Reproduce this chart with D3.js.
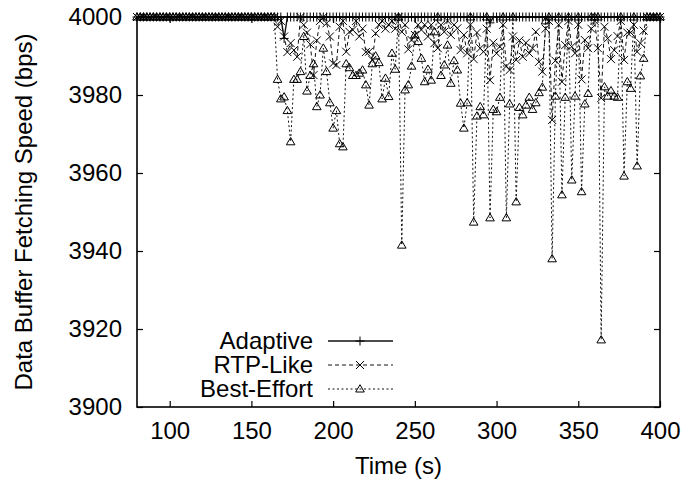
<!DOCTYPE html>
<html lang="en">
<head>
<meta charset="UTF-8">
<title>Data Buffer Fetching Speed</title>
<script src="https://d3js.org/d3.v7.min.js"></script>
<style>
  body { margin: 0; background: #fff; }
  svg { font-family: "Liberation Sans", Arial, sans-serif; }
</style>
</head>
<body>
<div id="chart"></div>
<script>
// time samples (s), one every 2 s
let times = [
   80,  82,  84,  86,  88,  90,  92,  94,  96,  98,
  100, 102, 104, 106, 108, 110, 112, 114, 116, 118,
  120, 122, 124, 126, 128, 130, 132, 134, 136, 138,
  140, 142, 144, 146, 148, 150, 152, 154, 156, 158,
  160, 162, 164, 166, 168, 170, 172, 174, 176, 178,
  180, 182, 184, 186, 188, 190, 192, 194, 196, 198,
  200, 202, 204, 206, 208, 210, 212, 214, 216, 218,
  220, 222, 224, 226, 228, 230, 232, 234, 236, 238,
  240, 242, 244, 246, 248, 250, 252, 254, 256, 258,
  260, 262, 264, 266, 268, 270, 272, 274, 276, 278,
  280, 282, 284, 286, 288, 290, 292, 294, 296, 298,
  300, 302, 304, 306, 308, 310, 312, 314, 316, 318,
  320, 322, 324, 326, 328, 330, 332, 334, 336, 338,
  340, 342, 344, 346, 348, 350, 352, 354, 356, 358,
  360, 362, 364, 366, 368, 370, 372, 374, 376, 378,
  380, 382, 384, 386, 388, 390, 392, 394, 396, 398,
  400
];

let adaptive = [
  4000, 4000, 4000, 4000, 4000, 4000, 4000, 4000, 4000, 4000,
  4000, 4000, 4000, 4000, 4000, 4000, 4000, 4000, 4000, 4000,
  4000, 4000, 4000, 4000, 4000, 4000, 4000, 4000, 4000, 4000,
  4000, 4000, 4000, 4000, 4000, 4000, 4000, 4000, 4000, 4000,
  4000, 4000, 4000, 4000, 4000, 3994.5, 4000, 4000, 4000, 4000,
  4000, 4000, 4000, 4000, 4000, 4000, 4000, 4000, 4000, 4000,
  4000, 4000, 4000, 4000, 4000, 4000, 4000, 4000, 4000, 4000,
  4000, 4000, 4000, 4000, 4000, 4000, 4000, 4000, 4000, 4000,
  4000, 4000, 4000, 4000, 4000, 4000, 4000, 4000, 4000, 4000,
  4000, 4000, 4000, 4000, 4000, 4000, 4000, 4000, 4000, 4000,
  4000, 4000, 4000, 4000, 4000, 4000, 4000, 4000, 3998.5, 4000,
  4000, 4000, 4000, 4000, 4000, 4000, 4000, 4000, 4000, 4000,
  4000, 4000, 4000, 4000, 4000, 4000, 4000, 4000, 4000, 4000,
  4000, 4000, 4000, 4000, 4000, 4000, 4000, 4000, 4000, 4000,
  4000, 4000, 4000, 4000, 4000, 4000, 4000, 4000, 4000, 4000,
  4000, 4000, 4000, 4000, 4000, 4000, 4000, 4000, 4000, 4000,
  4000
];

let rtpLike = [
  4000, 4000, 4000, 4000, 4000, 4000, 4000, 4000, 4000, 4000,
  4000, 4000, 4000, 4000, 4000, 4000, 4000, 4000, 4000, 4000,
  4000, 4000, 4000, 4000, 4000, 4000, 4000, 4000, 4000, 4000,
  4000, 4000, 4000, 4000, 4000, 4000, 4000, 4000, 4000, 4000,
  4000, 4000, 4000, 3997.5, 3999, 3995, 3991, 3993.3, 3991.5, 3989.8,
  4000, 3998, 3996, 3993, 3985.1, 3994, 3999, 4000, 3998.4, 3995,
  3988.1, 3987.7, 3997.5, 3999, 3991.1, 3996.2, 3996.7, 3999, 3995, 3997,
  3991, 3991.1, 3989, 3995.8, 3998, 3999, 3997, 3998, 3999, 3997,
  4000, 3996.2, 3998, 3991.7, 3994.1, 3995.4, 3998, 3996.7, 3998, 3995,
  3998, 3993.3, 3992, 3998, 3996.2, 3999, 3995.4, 3998, 3997.1, 3991.5,
  3995.4, 3990.7, 3998, 3989.2, 3996, 3992, 3991.1, 3997, 3983.8, 3993.4,
  3990.7, 3992.4, 3998, 3987.4, 3986.4, 3995, 3989, 3994, 3989.8, 3993.4,
  3990.7, 3992, 3996.2, 3988.5, 3986, 3997, 3999, 3973.6, 3988.8, 3998,
  3983.4, 3992.8, 3999, 3992.4, 3990.7, 3998, 3984, 3994.1, 3992, 3997,
  3999, 3992, 3979.2, 3997.5, 3994.5, 3989.2, 3991.5, 3995.1, 3999, 3989,
  3996, 3996, 3998, 3991.1, 3993.3, 3996.5, 4000, 4000, 4000, 4000,
  4000
];

let bestEffort = [
  4000, 4000, 4000, 4000, 4000, 4000, 4000, 4000, 4000, 4000,
  4000, 4000, 4000, 4000, 4000, 4000, 4000, 4000, 4000, 4000,
  4000, 4000, 4000, 4000, 4000, 4000, 4000, 4000, 4000, 4000,
  4000, 4000, 4000, 4000, 4000, 4000, 4000, 4000, 4000, 4000,
  4000, 4000, 4000, 3984, 3979, 3979.5, 3976, 3968, 3984, 3984,
  3986, 3995, 3981, 3985, 3988, 3977, 3980, 3992, 3986, 3978,
  3971.5, 3976, 3967.5, 3966.7, 3988, 3987, 3985, 3985, 3985.6, 3986.4,
  3982.6, 3977.4, 3988, 3990, 3988.3, 3979, 3984.3, 3979.6, 3990.7, 3986.6,
  4000, 3941.5, 3981.3, 3982.6, 3987.4, 3995.4, 3993.7, 3989.4, 3983.4, 3986.6,
  3983.8, 3996.2, 4000, 3985, 3987.7, 3992.8, 3983, 3988.8, 3986.4, 3977.9,
  3971.5, 3978, 4000, 3947.4, 3974.6, 3977, 3974.9, 4000, 3948.5, 3976.3,
  3975.7, 3979.4, 4000, 3948.5, 3977.7, 4000, 3952.6, 3976.8, 3974.9, 3977.4,
  3979.4, 3976.3, 3978, 3980.6, 3982, 3999, 4000, 3938, 3979.7, 4000,
  3954.4, 3979.4, 4000, 3958.2, 3979.7, 4000, 3955.2, 3977.7, 3980.4, 4000,
  4000, 4000, 3917.2, 3982.1, 3979.7, 3981.1, 3979.7, 3979.4, 4000, 3959.2,
  3983.4, 3981.7, 4000, 3961.8, 3984.9, 3989.4, 4000, 4000, 4000, 4000,
  4000
];

let xTicks = [100, 150, 200, 250, 300, 350, 400],
    yTicks = [3900, 3920, 3940, 3960, 3980, 4000];

let width = 686, height = 485,
    plotL = 137, plotR = 660, plotT = 17, plotB = 407,
    fontSize = '24px';

// marker shapes (gnuplot style)
let markers = {
    plus: "M-4.5,0H4.5M0,-4.5V4.5",
    cross: "M-4,-4L4,4M-4,4L4,-4",
    triangle: "M0,-4.3L4.3,3L-4.3,3Z"
};

let series = [
    {name: 'Adaptive', vals: adaptive, marker: 'plus', dash: null, lw: 1.4},
    {name: 'RTP-Like', vals: rtpLike, marker: 'cross', dash: '4,3', lw: 1},
    {name: 'Best-Effort', vals: bestEffort, marker: 'triangle', dash: '2,2.5', lw: 1}
];

let x = d3.scaleLinear().domain([80, 400]).range([plotL, plotR]),
    y = d3.scaleLinear().domain([3900, 4000]).range([plotB, plotT]);

let svg = d3.select('#chart').append('svg')
    .attr('width', width)
    .attr('height', height);

// axes, ticks pointing inwards on all four sides
svg.append('g').attr('transform', `translate(0,${plotB})`)
    .call(d3.axisBottom(x).tickValues(xTicks).tickFormat(d3.format('d'))
        .tickSizeInner(-6).tickSizeOuter(0).tickPadding(15))
    .call(g => g.select('.domain').remove());
svg.append('g').attr('transform', `translate(0,${plotT})`)
    .call(d3.axisTop(x).tickValues(xTicks).tickSizeInner(-6).tickSizeOuter(0).tickFormat(''))
    .call(g => g.select('.domain').remove());
svg.append('g').attr('transform', `translate(${plotL},0)`)
    .call(d3.axisLeft(y).tickValues(yTicks).tickFormat(d3.format('d'))
        .tickSizeInner(-6).tickSizeOuter(0).tickPadding(15))
    .call(g => g.select('.domain').remove());
svg.append('g').attr('transform', `translate(${plotR},0)`)
    .call(d3.axisRight(y).tickValues(yTicks).tickSizeInner(-6).tickSizeOuter(0).tickFormat(''))
    .call(g => g.select('.domain').remove());

svg.selectAll('.tick line').attr('stroke', '#000').attr('stroke-width', 1.2);
svg.selectAll('.tick text')
    .attr('fill', '#000')
    .style('font-size', fontSize);

// frame
svg.append('rect')
    .attr('x', plotL).attr('y', plotT)
    .attr('width', plotR - plotL).attr('height', plotB - plotT)
    .attr('fill', 'none').attr('stroke', '#000').attr('stroke-width', 1.6);

// series lines and markers
let line = d3.line().x(d => x(d[0])).y(d => y(d[1]));

series.forEach(s => {
    let pts = times.map((t, i) => [t, s.vals[i]]);
    let g = svg.append('g').attr('class', 'serie');
    g.append('path')
        .attr('d', line(pts))
        .attr('fill', 'none')
        .attr('stroke', '#111')
        .attr('stroke-width', s.lw)
        .attr('stroke-dasharray', s.dash);
    g.selectAll('path.mk').data(pts).enter().append('path')
        .attr('class', 'mk')
        .attr('d', markers[s.marker])
        .attr('transform', d => `translate(${x(d[0])},${y(d[1])})`)
        .attr('fill', 'none')
        .attr('stroke', '#000')
        .attr('stroke-width', 1);
});

// legend
let leg = svg.append('g').selectAll('g').data(series).enter().append('g')
    .attr('transform', (d, i) => `translate(0,${341 + i * 24})`);
leg.append('text')
    .attr('x', 313).attr('dy', '0.35em')
    .attr('text-anchor', 'end')
    .style('font-size', fontSize)
    .text(d => d.name);
leg.append('line')
    .attr('x1', 328).attr('x2', 393)
    .attr('stroke', '#111')
    .attr('stroke-width', d => d.lw)
    .attr('stroke-dasharray', d => d.dash);
leg.append('path')
    .attr('d', d => markers[d.marker])
    .attr('transform', 'translate(360,0)')
    .attr('fill', 'none')
    .attr('stroke', '#000');

// axis titles
svg.append('text')
    .attr('x', (plotL + plotR) / 2).attr('y', 474)
    .attr('text-anchor', 'middle')
    .style('font-size', fontSize)
    .text('Time (s)');
svg.append('text')
    .attr('transform', `translate(32,${(plotT + plotB) / 2}) rotate(-90)`)
    .attr('text-anchor', 'middle')
    .style('font-size', fontSize)
    .text('Data Buffer Fetching Speed (bps)');
</script>
</body>
</html>
